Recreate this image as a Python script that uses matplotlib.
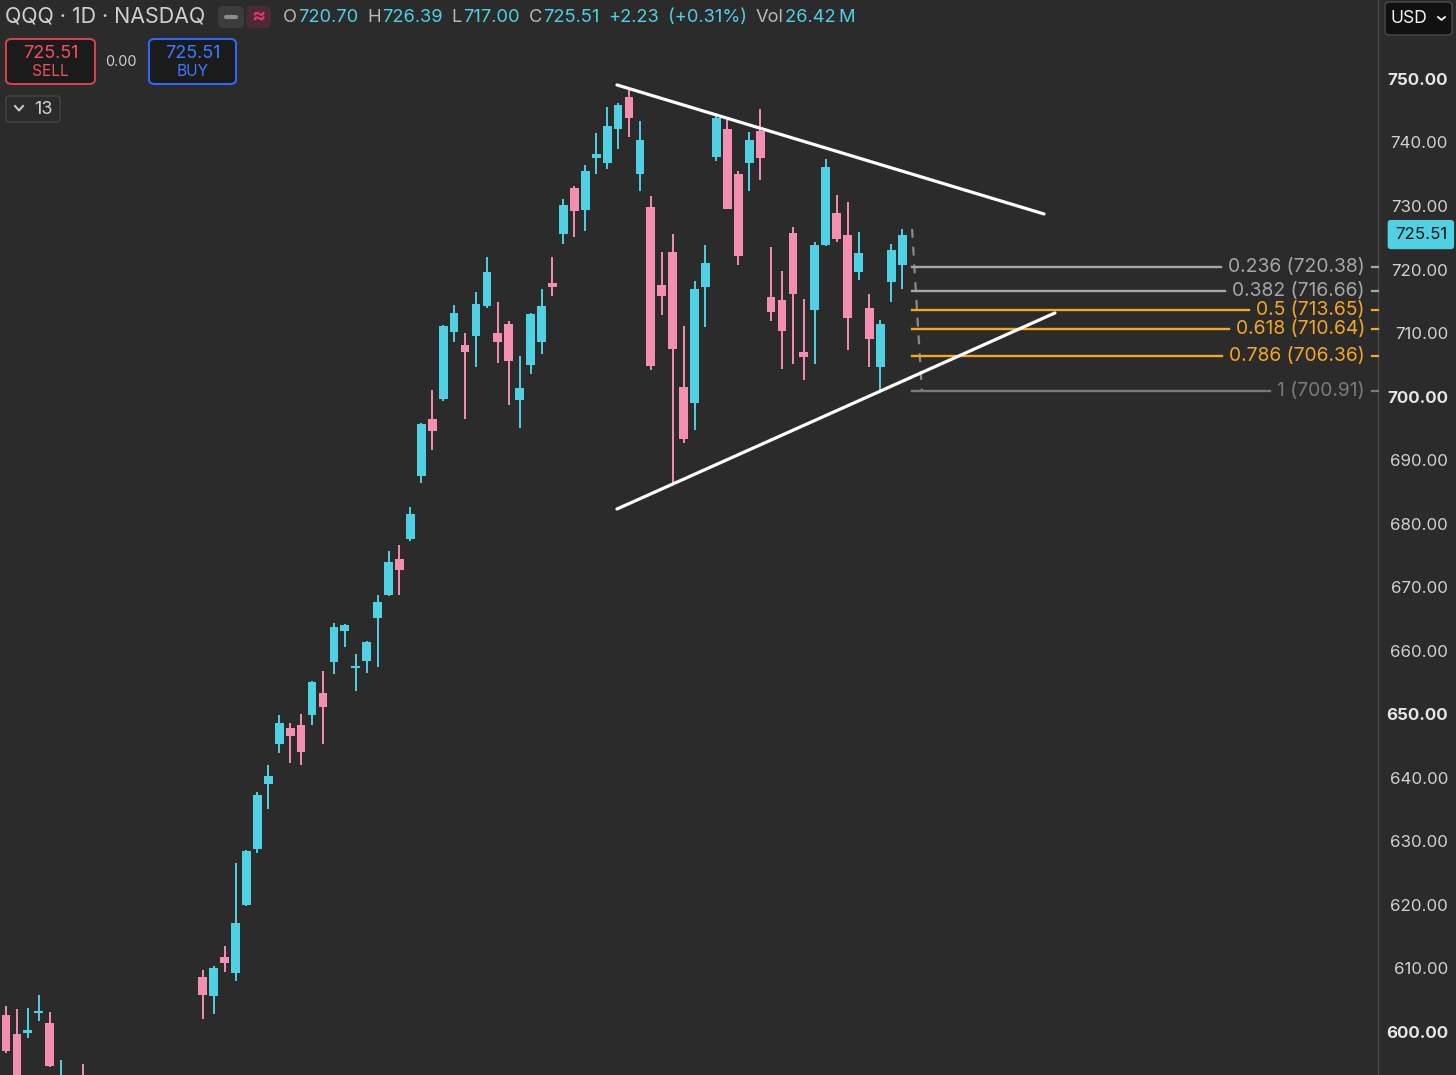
import matplotlib
matplotlib.use("Agg")
import matplotlib.pyplot as plt
from matplotlib.patches import FancyBboxPatch
from matplotlib.lines import Line2D
import matplotlib.transforms as mtrans

# ---------------- data ----------------
opens = [602.67, 599.67, 599.8, 603.0, 601.4, 586.0, 592.0, 592.5, 584.0, 580.5,
         575.0, 569.0, 573.0, 561.0, 569.0, 577.0, 582.0, 587.0, 608.65, 605.65,
         611.8, 609.3, 619.98, 628.8, 639.0, 645.3, 647.8, 648.3, 649.9, 653.35,
         658.2, 663.1, 657.3, 658.4, 665.2, 668.8, 674.4, 677.6, 687.5, 696.5,
         699.6, 710.2, 708.1, 709.55, 714.3, 710.0, 711.4, 699.5, 705.0, 708.6,
         717.9, 725.6, 732.8, 729.4, 737.6, 736.8, 742.1, 747.2, 735.05, 729.85,
         717.6, 722.8, 701.5, 699.0, 717.3, 737.7, 742.1, 735.05, 736.8, 741.8,
         715.7, 715.2, 725.8, 707.0, 713.6, 723.9, 728.9, 725.4, 719.6, 714.0,
         704.7, 718.0, 720.70]
highs = [604.08, 603.6, 603.8, 605.8, 603.1, 595.6, 593.0, 595.0, 589.0, 584.0,
         580.0, 576.0, 574.5, 570.0, 578.0, 583.0, 588.0, 591.5, 609.75, 610.4,
         613.5, 626.6, 628.6, 637.8, 642.0, 649.9, 648.6, 650.05, 655.2, 656.8,
         664.4, 664.2, 659.5, 661.5, 668.8, 675.7, 676.6, 682.6, 695.85, 701.05,
         711.3, 714.4, 710.0, 716.5, 722.0, 714.9, 711.9, 706.4, 713.1, 716.9,
         722.0, 731.1, 733.2, 736.5, 741.5, 745.6, 746.2, 748.3, 743.4, 731.6,
         722.8, 725.6, 711.1, 718.2, 723.9, 744.3, 743.9, 735.5, 741.7, 745.3,
         723.55, 719.8, 726.7, 715.4, 724.3, 737.4, 731.7, 730.6, 725.9, 716.2,
         712.1, 724.0, 726.39]
lows = [596.7, 590.5, 599.0, 601.7, 594.5, 584.5, 585.0, 583.0, 578.0, 573.0,
        565.0, 566.0, 560.0, 558.0, 567.0, 575.0, 580.0, 584.0, 602.03, 602.8,
        609.4, 608.0, 619.9, 628.2, 635.1, 643.9, 642.3, 642.0, 648.3, 645.3,
        656.3, 660.6, 653.7, 656.5, 657.4, 668.6, 668.8, 677.3, 686.4, 691.6,
        699.3, 708.6, 696.5, 704.7, 714.0, 705.3, 698.7, 695.1, 703.6, 706.7,
        715.8, 724.0, 725.1, 726.1, 735.0, 735.8, 739.0, 740.9, 732.4, 704.2,
        712.85, 686.25, 692.7, 694.75, 711.0, 737.1, 729.5, 720.7, 732.4, 734.1,
        711.9, 704.35, 705.1, 702.6, 705.1, 723.7, 724.3, 707.3, 718.4, 704.7,
        700.9, 714.9, 717.00]
closes = [597.0, 592.0, 600.3, 603.3, 594.6, 592.5, 587.0, 584.5, 580.0, 576.0,
          568.0, 574.0, 562.0, 568.5, 576.5, 581.5, 586.0, 590.0, 605.81, 610.06,
          610.85, 617.15, 628.5, 637.3, 640.3, 648.6, 646.6, 644.1, 655.1, 651.15,
          663.7, 664.05, 657.6, 661.4, 667.7, 674.0, 672.7, 681.5, 695.7, 694.6,
          711.1, 713.2, 707.0, 714.6, 719.6, 708.6, 705.6, 701.4, 713.0, 714.3,
          717.3, 730.2, 729.2, 735.5, 738.2, 742.6, 745.9, 743.9, 740.4, 704.8,
          715.8, 707.5, 693.3, 716.9, 721.0, 743.9, 729.5, 722.1, 740.4, 737.6,
          713.3, 710.3, 716.2, 706.2, 723.9, 736.1, 724.8, 712.4, 722.6, 709.1,
          711.4, 723.1, 725.51]

fib_labels = ["0.236", "0.382", "0.5", "0.618", "0.786", "1"]
fib_ratios = [0.236, 0.382, 0.5, 0.618, 0.786, 1.0]
fib_top = 726.39      # level 0
fib_bottom = 700.91   # level 1
fib_anchor_x = [82.9, 83.8]

upper_trend_x = [55.9, 94.97]
upper_trend_y = [749.06, 728.75]
lower_trend_x = [55.9, 95.97]
lower_trend_y = [682.31, 713.17]

ytick_values = [600, 610, 620, 630, 640, 650, 660, 670, 680, 690, 700, 710, 720, 730, 740, 750]
bold_ticks = [600, 650, 700, 750]
last_price = 725.51

# header groups: (label, value)
header_groups = [("O", "720.70"), ("H", "726.39"), ("L", "717.00"), ("C", "725.51"),
                 ("", "+2.23"), ("", "(+0.31%)"), ("Vol", "26.42\u2009M")]

# ---------------- style ----------------
W, H = 1456, 1075
BG = "#2b2b2b"
UP = "#50d0e3"
DOWN = "#f48fb1"
ORANGE = "#f5a623"
GRAY = "#a6a6a6"
DIMGRAY = "#7a7a7a"
TXT = "#d2d2d2"

plt.rcParams['font.family'] = ['Inter', 'DejaVu Sans']

fig = plt.figure(figsize=(W / 100, H / 100), dpi=100, facecolor=BG)
ax = fig.add_axes([0, 0, 1378 / W, 1])
ax.set_facecolor(BG)

n = len(opens)
xs = list(range(n))
ax.set_xlim(-0.549, 125.53)
ax.set_ylim(593.22, 762.43)

# candles
for i in xs:
    o, h, l, c = opens[i], highs[i], lows[i], closes[i]
    col = UP if c >= o else DOWN
    ax.vlines(i, l, h, color=col, lw=1.4, zorder=2)
    bottom = min(o, c)
    height = max(abs(c - o), 0.35)
    ax.bar(i, height, bottom=bottom, width=0.8, color=col, edgecolor='none', zorder=3)

# trend lines
ax.plot(upper_trend_x, upper_trend_y, color='white', lw=2.3, solid_capstyle='round', zorder=5)
ax.plot(lower_trend_x, lower_trend_y, color='white', lw=2.3, solid_capstyle='round', zorder=5)

# fib retracement
ax.plot(fib_anchor_x, [fib_top, fib_bottom], color='#8a8a8a', lw=1.6, ls=(0, (4, 4)), zorder=4)
blend = mtrans.blended_transform_factory(ax.transAxes, ax.transData)
fib_texts = []
for lab, r in zip(fib_labels, fib_ratios):
    price = fib_top - r * (fib_top - fib_bottom)
    if lab in ("0.5", "0.618", "0.786"):
        col = ORANGE
    elif lab == "1":
        col = DIMGRAY
    else:
        col = GRAY
    t = ax.text(1365 / 1378, price, f"{lab} ({price:.2f})", transform=blend,
                ha='right', va='center', fontsize=13.9, color=col, zorder=6)
    fib_texts.append((t, price, col))
    ax.plot([1372 / 1378, 1.0], [price, price], transform=blend, color=col, lw=1.6,
            clip_on=False, zorder=6)

fig.canvas.draw()
renderer = fig.canvas.get_renderer()
inv = ax.transData.inverted()
for t, price, col in fib_texts:
    bb = t.get_window_extent(renderer)
    x_end = inv.transform((bb.x0 - 7, 0))[0]
    ax.plot([fib_anchor_x[0], x_end], [price, price], color=col, lw=1.7, zorder=4)

# right price axis
ax.yaxis.tick_right()
ax.set_yticks(ytick_values, labels=[f"{v:.2f}" for v in ytick_values])
ax.tick_params(axis='y', length=0, pad=(1448 - 1378) * 0.72, labelsize=12.2, colors=TXT)
for lbl, v in zip(ax.get_yticklabels(), ytick_values):
    lbl.set_ha('right')
    if v in bold_ticks:
        lbl.set_fontweight('bold')
        lbl.set_color('#e6e6e6')
ax.set_xticks([])
for s in ['top', 'left', 'bottom']:
    ax.spines[s].set_visible(False)
ax.spines['right'].set_color('#4a4a4a')
ax.spines['right'].set_linewidth(1.0)

# last price label
ax.text(1447 / 1378, last_price, f"{last_price:.2f}", transform=blend, ha='right', va='center',
        fontsize=12.2, color='#111111', clip_on=False, zorder=7,
        bbox=dict(boxstyle='round,pad=0.42,rounding_size=0.2', fc=UP, ec='none'))


# ---------------- header (figure pixel helpers) ----------------
def fx(px):
    return px / W


def fy(py):
    return 1 - py / H


def rbox(x0, y0, x1, y1, fc, ec, lw=1.2, r=5):
    p = FancyBboxPatch((fx(x0), fy(y1)), fx(x1) - fx(x0), fy(y0) - fy(y1),
                       boxstyle=f"round,pad=0,rounding_size={r / W}",
                       transform=fig.transFigure, fc=fc, ec=ec, lw=lw, zorder=10)
    fig.add_artist(p)


def ftext(x, y, s, **kw):
    return fig.text(fx(x), fy(y), s, zorder=12, **kw)


ftext(5, 17, "QQQ · 1D · NASDAQ", fontsize=15.4, color='#cfcfcf', va='center', ha='left')
rbox(218, 6, 244, 28, '#3c3c3c', 'none', r=6)
fig.add_artist(Line2D([fx(226), fx(236)], [fy(17), fy(17)], color='#8c8c8c', lw=3,
                      solid_capstyle='round', transform=fig.transFigure, zorder=11))
rbox(246, 6, 271, 28, '#4a2a35', 'none', r=6)
ftext(258.5, 16, "≈", fontsize=15, color='#e8307a', va='center', ha='center', fontweight='bold')

xcur = 283
for lab, val in header_groups:
    if lab:
        t = ftext(xcur, 17, lab, fontsize=13.2, color='#b9b9b9', va='center', ha='left')
        xcur += t.get_window_extent(renderer).width + 1
    t = ftext(xcur, 17, val, fontsize=13.2, color=UP, va='center', ha='left')
    xcur += t.get_window_extent(renderer).width + 9

# sell / buy boxes
rbox(6, 39, 95, 84, '#1b1b1b', '#d9434f', lw=1.4, r=6)
ftext(50.5, 53, "725.51", fontsize=13, color='#f0505c', ha='center', va='center')
ftext(50.5, 72, "SELL", fontsize=11.2, color='#f0505c', ha='center', va='center')
ftext(121, 62, "0.00", fontsize=10.4, color='#d0d0d0', ha='center', va='center')
rbox(149, 39, 236, 84, '#1b1b1b', '#2f6bff', lw=1.4, r=6)
ftext(192.5, 53, "725.51", fontsize=13, color='#3b7bff', ha='center', va='center')
ftext(192.5, 72, "BUY", fontsize=11.2, color='#3b7bff', ha='center', va='center')

# collapse box
rbox(6, 96, 60, 122, '#2b2b2b', '#444444', lw=1.0, r=4)
fig.add_artist(Line2D([fx(15), fx(19), fx(23)], [fy(106), fy(110.5), fy(106)], color='#d0d0d0',
                      lw=1.4, transform=fig.transFigure, zorder=11))
ftext(34, 109.5, "13", fontsize=13, color='#d0d0d0', ha='left', va='center')

# currency box
rbox(1385, 2, 1452, 35, '#111111', '#4a4a4a', lw=1.0, r=5)
ftext(1390, 18.5, "USD", fontsize=12.6, color='#f2f2f2', ha='left', va='center')
fig.add_artist(Line2D([fx(1438), fx(1441.5), fx(1445)], [fy(17), fy(20), fy(17)], color='#f2f2f2',
                      lw=1.3, transform=fig.transFigure, zorder=11))

fig.savefig("out.png", dpi=100, facecolor=BG)
